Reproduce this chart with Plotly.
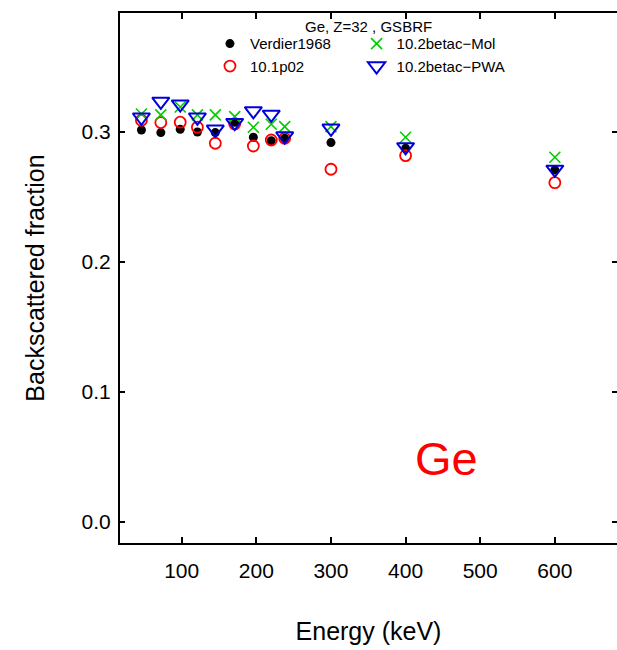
import plotly.graph_objects as go

# ---- data ----
energy_kev = [46, 72, 98, 121, 145, 171, 196, 220, 238, 300, 400, 600]
verdier1968 = [0.3015, 0.2995, 0.3021, 0.3000, 0.2995, 0.3075, 0.2959, 0.2933, 0.2951, 0.2918, 0.2874, 0.2708]
g4_10_1p02 = [0.3090, 0.3072, 0.3075, 0.3036, 0.2913, 0.3062, 0.2892, 0.2938, 0.2951, 0.2713, 0.2818, 0.2610]
g4_10_2betac_mol = [0.3138, 0.3131, 0.3192, 0.3131, 0.3131, 0.3118, 0.3036, 0.3059, 0.3041, 0.3041, 0.2959, 0.2805]
g4_10_2betac_pwa = [0.3113, 0.3235, 0.3214, 0.3113, 0.3020, 0.3071, 0.3162, 0.3135, 0.2968, 0.3028, 0.2885, 0.2712]

x_ticks = [100, 200, 300, 400, 500, 600]
y_ticks = [0.0, 0.1, 0.2, 0.3]
y_tick_labels = ["0.0", "0.1", "0.2", "0.3"]

legend_title = "Ge, Z=32 , GSBRF"
element_label = "Ge"

FONT = "Liberation Sans, Arial, Helvetica, sans-serif"

fig = go.Figure()

fig.add_trace(go.Scatter(
    x=energy_kev, y=verdier1968, mode="markers", name="Verdier1968",
    marker=dict(symbol="circle", size=9, color="black"), legend="legend"))
fig.add_trace(go.Scatter(
    x=energy_kev, y=g4_10_1p02, mode="markers", name="10.1p02",
    marker=dict(symbol="circle-open", size=11, color="#ff0000",
                line=dict(width=1.8, color="#ff0000")), legend="legend"))
fig.add_trace(go.Scatter(
    x=energy_kev, y=g4_10_2betac_mol, mode="markers", name="10.2betac\u2212Mol",
    marker=dict(symbol="x-thin-open", size=11, color="#00cc00",
                line=dict(width=1.6, color="#00cc00")), legend="legend2"))
fig.add_trace(go.Scatter(
    x=energy_kev, y=g4_10_2betac_pwa, mode="markers", name="10.2betac\u2212PWA",
    marker=dict(symbol="triangle-down-open", size=15, color="#0000dd",
                line=dict(width=2, color="#0000dd")), legend="legend2"))

# invisible trace to carry the right-hand tick axis
fig.add_trace(go.Scatter(x=[energy_kev[0]], y=[verdier1968[0]], yaxis="y2",
                         mode="markers", marker=dict(opacity=0), showlegend=False,
                         hoverinfo="skip"))

fig.update_layout(
    width=617, height=650,
    margin=dict(l=120, r=0, t=13, b=107),
    paper_bgcolor="white", plot_bgcolor="white",
    font=dict(family=FONT, color="black"),
    xaxis=dict(
        range=[17.3, 683.3], tickvals=x_ticks, showgrid=False, zeroline=False,
        showline=True, linewidth=2, linecolor="black", mirror="ticks",
        ticks="inside", ticklen=6, tickwidth=1.5, tickcolor="black",
        tickfont=dict(size=21), ticklabelstandoff=8,
        title=dict(text="Energy (keV)", font=dict(size=25), standoff=41),
    ),
    yaxis=dict(
        range=[-0.0162, 0.3915], tickvals=y_ticks, ticktext=y_tick_labels,
        showgrid=False, zeroline=False,
        showline=True, linewidth=2, linecolor="black",
        ticks="inside", ticklen=5, tickwidth=1.5, tickcolor="black",
        tickfont=dict(size=21), ticklabelstandoff=3,
        title=dict(text="Backscattered fraction", font=dict(size=25), standoff=30),
    ),
    yaxis2=dict(
        overlaying="y", side="right", matches="y", tickvals=y_ticks,
        showgrid=False, zeroline=False, showline=False, showticklabels=False,
        ticks="inside", ticklen=5, tickwidth=1.5, tickcolor="black",
    ),
    legend=dict(x=0.181, y=0.973, xanchor="left", yanchor="top",
                bgcolor="rgba(0,0,0,0)", font=dict(size=15), tracegroupgap=0),
    legend2=dict(x=0.476, y=0.973, xanchor="left", yanchor="top",
                 bgcolor="rgba(0,0,0,0)", font=dict(size=15), tracegroupgap=0),
    annotations=[
        dict(text=legend_title, xref="paper", yref="paper", x=0.5, y=0.9737,
             xanchor="center", yanchor="middle", showarrow=False,
             font=dict(size=15)),
        dict(text=element_label, xref="x", yref="y", x=455, y=0.049,
             xanchor="center", yanchor="middle", showarrow=False,
             font=dict(size=47, color="#ff0000")),
    ],
)

fig.write_html("out.html")
